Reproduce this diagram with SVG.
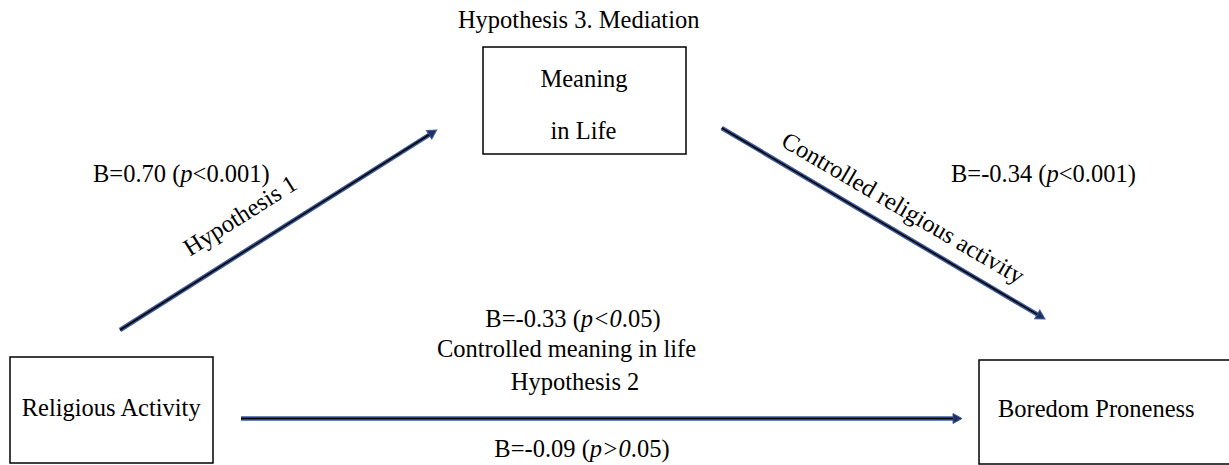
<svg xmlns="http://www.w3.org/2000/svg" width="1229" height="465" viewBox="0 0 1229 465">
<style>
text{font-family:'Times New Roman','Liberation Serif','DejaVu Serif',serif;font-size:24.5px;fill:#000}
.box{fill:#fff;stroke:#000;stroke-width:1.5}
.ln{stroke:#3B5C9E;stroke-width:4.5;fill:none}
.core{stroke:#000;stroke-width:1.6;fill:none}
.c{text-anchor:middle}
</style>
<defs>
<marker id="ah" markerUnits="userSpaceOnUse" markerWidth="12" markerHeight="12" viewBox="-1 -6 12 12" refX="0" refY="0" orient="auto">
<path d="M0,-5 L9,0 L0,5 z" fill="#1F2F5F" stroke="#3B5C9E" stroke-width="1"/>
</marker>
</defs>
<g id="connectors">
<g id="a1">
<line class="ln" x1="120" y1="330" x2="429.1" y2="134.8" marker-end="url(#ah)"/>
<line class="core" x1="120" y1="330" x2="429.1" y2="134.8"/>
</g>
<g id="a2">
<line class="ln" x1="721.7" y1="128" x2="1037.25" y2="314.4" marker-end="url(#ah)"/>
<line class="core" x1="721.7" y1="128" x2="1037.25" y2="314.4"/>
</g>
<g id="a3">
<line class="ln" x1="241" y1="418.5" x2="953" y2="418.5" marker-end="url(#ah)"/>
<line class="core" x1="241" y1="418.5" x2="953" y2="418.5"/>
</g>
</g>
<g id="labels" font-family="Liberation Serif, serif">
<text class="c" x="578.7" y="28">Hypothesis 3. Mediation</text>
<text x="93" y="182">B=0.70 (<tspan font-style="italic">p</tspan>&lt;0.001)</text>
<text class="c" transform="translate(244.4,222.3) rotate(-32.3)">Hypothesis 1</text>
<text class="c" transform="translate(899,215) rotate(30.35)">Controlled religious activity</text>
<text x="951" y="182">B=-0.34 (<tspan font-style="italic">p</tspan>&lt;0.001)</text>
<text class="c" x="573" y="326.7">B=-0.33 (<tspan font-style="italic">p&lt;0</tspan>.05)</text>
<text class="c" x="566.5" y="356.7">Controlled meaning in life</text>
<text class="c" x="575" y="390">Hypothesis 2</text>
<text class="c" x="582" y="456.7">B=-0.09 (<tspan font-style="italic">p&gt;0</tspan>.05)</text>
</g>
<g id="meaning">
<rect class="box" x="483" y="47" width="203" height="107"/>
<text class="c" x="584" y="86.7">Meaning</text>
<text class="c" x="583.5" y="139">in Life</text>
</g>
<g id="religious">
<rect class="box" x="10" y="357" width="203" height="106"/>
<text x="21.7" y="415.7">Religious Activity</text>
</g>
<g id="boredom">
<rect class="box" x="979" y="360" width="260" height="104"/>
<text x="998" y="417">Boredom Proneness</text>
</g>
</svg>
